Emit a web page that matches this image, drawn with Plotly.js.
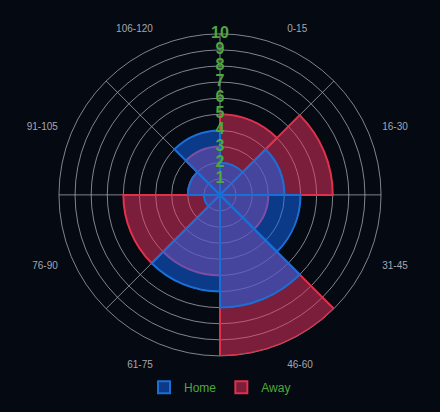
<!DOCTYPE html>
<html>
<head>
<meta charset="utf-8">
<script src="https://cdn.plot.ly/plotly-3.0.1.min.js"></script>
<style>
html,body{margin:0;padding:0;background:#050912;}
#chart{width:440px;height:412px;}
</style>
</head>
<body>
<div id="chart"></div>
<script>
// Data
const categories = ["0-15", "16-30", "31-45", "46-60", "61-75", "76-90", "91-105", "106-120"];
const homeValues = [2, 4, 5, 7, 6, 1, 2, 4];
const awayValues = [5, 7, 3, 10, 5, 6, 2, 3];
const radialTicks = [1, 2, 3, 4, 5, 6, 7, 8, 9, 10];
const radialTickLabels = ["1", "2", "3", "4", "5", "6", "7", "8", "9", "10"];

const green = "#4fa83d";
const gridColor = "rgba(170,172,180,0.75)";
const bg = "#050912";

const dom = {x: [0.134, 0.866], y: [0.136, 0.918]};

const traces = [
  // grid holder (bottom layer)
  {type: "scatterpolar", subplot: "polar", r: [], theta: [], showlegend: false, hoverinfo: "skip"},
  // Away bars
  {
    type: "barpolar", subplot: "polar2", name: "Away",
    r: awayValues, theta: categories,
    marker: {color: "rgba(240,52,100,0.5)", line: {color: "#e0304a", width: 2}},
    legendrank: 2
  },
  // Home bars
  {
    type: "barpolar", subplot: "polar2", name: "Home",
    r: homeValues, theta: categories,
    marker: {color: "rgba(18,108,255,0.5)", line: {color: "#1a6fd6", width: 2}},
    legendrank: 1
  },
  // radial tick labels
  {
    type: "scatterpolar", subplot: "polar3", mode: "text",
    r: radialTicks, theta: radialTicks.map(() => 0),
    text: radialTickLabels, textposition: "middle center",
    textfont: {family: "Liberation Sans, Arial, sans-serif", size: 16, color: green, weight: "bold"},
    cliponaxis: false, showlegend: false, hoverinfo: "skip"
  }
];

const hiddenRadial = {range: [0, 10], showgrid: false, showticklabels: false, ticks: "", showline: false};

const layout = {
  width: 440, height: 412,
  paper_bgcolor: bg, plot_bgcolor: bg,
  margin: {l: 0, r: 0, t: 0, b: 0},
  font: {family: "Liberation Sans, Arial, sans-serif"},
  showlegend: true,
  legend: {
    orientation: "h", x: 0.5, xanchor: "center", y: 0.06, yanchor: "middle",
    font: {color: green, size: 12}, bgcolor: "rgba(0,0,0,0)"
  },
  polar: {
    domain: dom, bgcolor: bg,
    radialaxis: {range: [0, 10], dtick: 1, tick0: 0, showgrid: true, gridcolor: gridColor, gridwidth: 1,
                 showticklabels: false, ticks: "", showline: false},
    angularaxis: {type: "linear", thetaunit: "degrees", rotation: 90, direction: "clockwise", dtick: 45,
                  showgrid: true, gridcolor: gridColor, gridwidth: 1, showticklabels: false, ticks: "",
                  showline: true, linecolor: gridColor, linewidth: 1}
  },
  polar2: {
    domain: dom, bgcolor: "rgba(0,0,0,0)", barmode: "overlay", bargap: 0,
    radialaxis: hiddenRadial,
    angularaxis: {type: "category", categoryarray: categories, rotation: 67.5, direction: "clockwise",
                  showgrid: false, showline: false, ticks: "outside", ticklen: 12, tickcolor: "rgba(0,0,0,0)",
                  tickfont: {size: 10, color: "#a4a7ad"}}
  },
  polar3: {
    domain: dom, bgcolor: "rgba(0,0,0,0)",
    radialaxis: hiddenRadial,
    angularaxis: {type: "linear", thetaunit: "degrees", rotation: 90, direction: "clockwise",
                  showgrid: false, showticklabels: false, ticks: "", showline: false}
  }
};

Plotly.newPlot("chart", traces, layout, {displayModeBar: false, staticPlot: true});
</script>
</body>
</html>
